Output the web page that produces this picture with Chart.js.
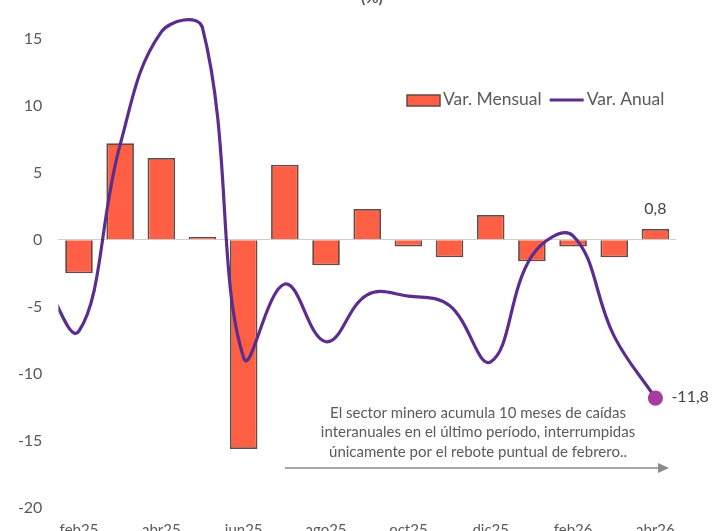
<!DOCTYPE html>
<html>
<head>
<meta charset="utf-8">
<script src="https://cdn.jsdelivr.net/npm/chart.js@4"></script>
<style>
  html, body { margin: 0; padding: 0; background: #fff; overflow: hidden; }
  #wrap { position: absolute; left: 0; top: -54px; width: 721px; height: 620px; }
</style>
</head>
<body>
<div id="wrap"><canvas id="chart"></canvas></div>
<script>
// months on the x axis
const meses = ['feb25','mar25','abr25','may25','jun25','jul25','ago25','sep25','oct25','nov25','dic25','ene26','feb26','mar26','abr26'];
// monthly change (bars)
const varMensual = [-2.5, 7.2, 6.1, 0.2, -15.6, 5.6, -1.9, 2.3, -0.5, -1.3, 1.85, -1.6, -0.5, -1.3, 0.8];
// annual change (line); the series starts one month earlier (ene25), partly hidden at the left edge
const mesesAnual = ['ene25', ...meses];
const varAnual = [-2.0, -6.8, 7.1, 15.5, 15.8, -8.8, -3.3, -7.6, -4.1, -4.2, -4.9, -9.1, -1.2, 0.3, -7.2, -11.8];
const yTicks = [-20, -15, -10, -5, 0, 5, 10, 15, 20];

const nota = [
  'El sector minero acumula 10 meses de caídas',
  'interanuales en el último período, interrumpidas',
  'únicamente por el rebote puntual de febrero..'
];

const OFF = 54; // canvas is shifted up by this much
const FONT = 'Lato, "Open Sans", sans-serif';
const GRAY = '#5a5a5a';
const BAR = '#ff5f45';
const BAR_BORDER = '#654a43';
const LINE = '#5b2d8c';
const DOT = '#a53c9f';

const fmt = v => String(v).replace('.', ',');

const extras = {
  id: 'extras',
  afterDatasetsDraw(chart) {
    const ctx = chart.ctx;
    ctx.save();

    // value labels (data driven)
    const last = meses.length - 1;
    const bar = chart.getDatasetMeta(0).data[last];
    ctx.font = '16px ' + FONT;
    ctx.fillStyle = '#444';
    ctx.textAlign = 'center';
    ctx.textBaseline = 'middle';
    ctx.fillText(fmt(varMensual[last]), bar.x, bar.y - 20);
    const pt = chart.getDatasetMeta(1).data[varAnual.length - 1];
    ctx.textAlign = 'left';
    ctx.fillText(fmt(varAnual[varAnual.length - 1]), pt.x + 16, pt.y - 1);

    // the rest uses page coordinates
    ctx.translate(0, OFF);

    // title (mostly cropped)
    ctx.fillStyle = GRAY;
    ctx.font = 'bold 16px ' + FONT;
    ctx.textAlign = 'center';
    ctx.textBaseline = 'alphabetic';
    ctx.fillText('(%)', 372, 3);

    // legend
    ctx.textAlign = 'left';
    ctx.textBaseline = 'middle';
    const ly = 99;
    let lx = 407;
    ctx.fillStyle = BAR;
    ctx.strokeStyle = BAR_BORDER;
    ctx.lineWidth = 1.5;
    ctx.fillRect(lx, ly - 4, 33, 11);
    ctx.strokeRect(lx, ly - 4, 33, 11);
    lx += 36;
    ctx.font = '17.5px ' + FONT;
    ctx.fillStyle = GRAY;
    ctx.fillText(chart.data.datasets[0].label, lx, ly);
    lx += ctx.measureText(chart.data.datasets[0].label).width + 8;
    ctx.strokeStyle = LINE;
    ctx.lineWidth = 3;
    ctx.beginPath();
    ctx.moveTo(lx, ly + 1);
    ctx.lineTo(lx + 34, ly + 1);
    ctx.stroke();
    lx += 37;
    ctx.fillText(chart.data.datasets[1].label, lx, ly);

    // note + arrow
    ctx.font = '15px ' + FONT;
    ctx.fillStyle = GRAY;
    ctx.textAlign = 'center';
    nota.forEach((t, i) => ctx.fillText(t, 478, 413 + i * 19.5));
    const ay = 468;
    ctx.strokeStyle = '#8a8a8a';
    ctx.lineWidth = 1.5;
    ctx.beginPath();
    ctx.moveTo(285, ay);
    ctx.lineTo(660, ay);
    ctx.stroke();
    ctx.fillStyle = '#8a8a8a';
    ctx.beginPath();
    ctx.moveTo(669, ay);
    ctx.lineTo(658, ay - 5);
    ctx.lineTo(658, ay + 5);
    ctx.closePath();
    ctx.fill();
    ctx.restore();
  }
};

new Chart(document.getElementById('chart'), {
  type: 'bar',
  data: {
    datasets: [
      {
        type: 'bar',
        label: 'Var. Mensual',
        data: varMensual.map((v, i) => ({ x: i, y: v })),
        backgroundColor: BAR,
        borderColor: BAR_BORDER,
        borderWidth: 1.8,
        grouped: false,
        barPercentage: 0.67,
        categoryPercentage: 1,
        order: 2
      },
      {
        type: 'line',
        label: 'Var. Anual',
        data: varAnual.map((v, i) => ({ x: i - 1, y: v })),
        borderColor: LINE,
        borderWidth: 3.2,
        tension: 0.4,
        clip: 0,
        pointRadius: ctx => ctx.dataIndex === varAnual.length - 1 ? 6 : 0,
        pointBackgroundColor: DOT,
        pointBorderColor: DOT,
        order: 1
      }
    ]
  },
  options: {
    responsive: true,
    maintainAspectRatio: false,
    animation: false,
    layout: { padding: { top: 0, right: 45, bottom: 18, left: 0 } },
    plugins: { legend: { display: false }, tooltip: { enabled: false } },
    scales: {
      x: {
        type: 'linear',
        offset: false,
        min: -0.5,
        max: meses.length - 0.5,
        grid: { display: false, drawTicks: false },
        border: { display: false },
        afterBuildTicks: s => { s.ticks = meses.map((m, i) => ({ value: i })).filter(t => t.value % 2 === 0); },
        ticks: {
          autoSkip: false,
          maxRotation: 0,
          padding: 13,
          color: GRAY,
          font: { family: FONT, size: 15 },
          callback: v => meses[v]
        },
        afterFit: s => { s.height = 40; }
      },
      y: {
        min: yTicks[0],
        max: yTicks[yTicks.length - 1],
        afterBuildTicks: s => { s.ticks = yTicks.map(v => ({ value: v })); },
        border: { display: false },
        grid: {
          drawTicks: false,
          color: c => c.tick && c.tick.value === 0 ? '#cfcfcf' : 'transparent',
          lineWidth: 1
        },
        ticks: {
          padding: 16,
          color: GRAY,
          font: { family: FONT, size: 16 }
        },
        afterFit: s => { s.width = 58.4; }
      }
    }
  },
  plugins: [extras]
});
</script>
</body>
</html>
